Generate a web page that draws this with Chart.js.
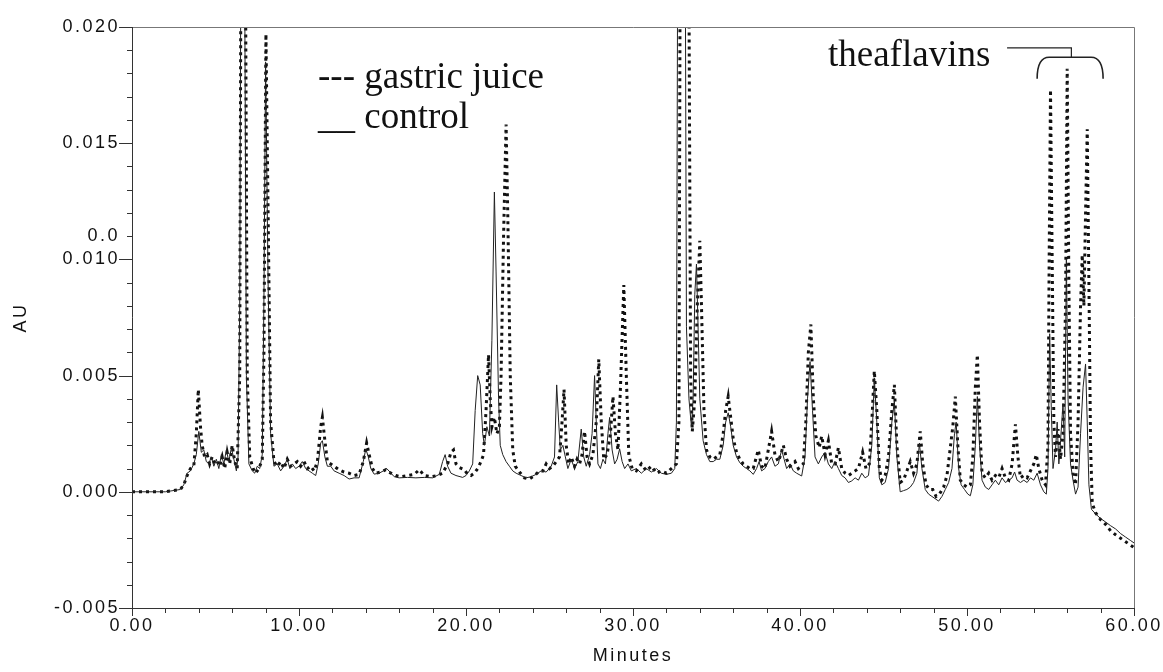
<!DOCTYPE html>
<html>
<head>
<meta charset="utf-8">
<style>
html,body{margin:0;padding:0;background:#fff;}
#wrap{width:1163px;height:672px;position:relative;}
canvas{display:block;}
</style>
<script src="https://cdn.jsdelivr.net/npm/chart.js@4.4.1/dist/chart.umd.min.js"></script>
</head>
<body>
<div id="wrap"><canvas id="c" width="1163" height="672"></canvas></div>
<script>
// ---- data: [minutes, AU] ----
const controlTrace = [
[0,0],[1,0],[2,0],[2.9,0.0001],[3.1,0.0003],[3.3,0.0008],[3.5,0.0009],[3.7,0.0012],[3.85,0.0016],[4,0.0026],
[4.15,0.0017],[4.3,0.0018],[4.45,0.0013],[4.6,0.0012],[4.75,0.0015],[4.9,0.0011],[5.05,0.0014],[5.2,0.0010],[5.35,0.0016],[5.5,0.0012],
[5.65,0.0018],[5.8,0.0013],[5.95,0.0019],[6.1,0.0014],[6.25,0.0009],[6.35,0.0015],[6.45,0.0080],[6.55,0.0300],[6.7,0.0300],[6.85,0.0050],
[7,0.0012],[7.2,0.0009],[7.35,0.0008],[7.5,0.0011],[7.65,0.0010],[7.8,0.0016],[7.9,0.0083],[8,0.0185],[8.15,0.0090],[8.3,0.0025],
[8.5,0.0011],[8.7,0.0012],[8.9,0.0009],[9.1,0.0011],[9.3,0.0014],[9.45,0.0010],[9.6,0.0012],[9.8,0.0010],[10,0.0011],[10.2,0.0013],
[10.4,0.0010],[10.6,0.0009],[10.8,0.0008],[11,0.0007],[11.15,0.0012],[11.3,0.0021],[11.4,0.0022],[11.55,0.0015],[11.7,0.0011],[11.9,0.0011],
[12.1,0.0009],[12.4,0.0008],[12.7,0.0007],[13,0.00055],[13.3,0.0006],[13.6,0.0006],[13.85,0.0013],[14,0.00185],[14.15,0.0015],[14.3,0.0010],
[14.5,0.00076],[14.8,0.0008],[15.05,0.0009],[15.25,0.0010],[15.45,0.00085],[15.7,0.00065],[16,0.0006],[16.5,0.00062],[17,0.0006],[17.5,0.00062],
[18,0.0006],[18.4,0.00075],[18.6,0.0013],[18.75,0.0016],[18.9,0.0011],[19.1,0.0008],[19.4,0.0007],[19.8,0.00062],[20,0.0007],[20.2,0.0009],
[20.4,0.0012],[20.55,0.0035],[20.7,0.0050],[20.85,0.0046],[21,0.0025],[21.1,0.0020],[21.25,0.0028],[21.4,0.0024],[21.55,0.0065],[21.7,0.0129],
[21.8,0.0095],[21.95,0.0040],[22.05,0.0020],[22.2,0.0016],[22.4,0.0013],[22.6,0.0011],[22.8,0.0009],[23,0.0008],[23.3,0.0007],[23.6,0.0006],
[23.9,0.00065],[24.2,0.00075],[24.5,0.0009],[24.8,0.00085],[25.1,0.0011],[25.3,0.0015],[25.43,0.0046],[25.55,0.0030],[25.65,0.0018],[25.8,0.0020],
[25.95,0.0015],[26.1,0.0010],[26.3,0.0014],[26.5,0.0010],[26.7,0.0013],[26.9,0.0027],[27.05,0.0015],[27.2,0.0011],[27.4,0.0016],[27.55,0.0025],
[27.7,0.0050],[27.8,0.0030],[27.9,0.0012],[28.05,0.0010],[28.2,0.0014],[28.35,0.0012],[28.5,0.0025],[28.6,0.0032],[28.75,0.0018],[28.9,0.0012],
[29.05,0.0014],[29.2,0.00185],[29.35,0.0013],[29.5,0.0010],[29.7,0.0012],[29.9,0.0009],[30.2,0.0010],[30.5,0.0008],[30.8,0.0010],[31.1,0.00085],
[31.4,0.0010],[31.7,0.0008],[32,0.00075],[32.3,0.0008],[32.5,0.0010],[32.6,0.0030],[32.7,0.0300],[33.1,0.0300],[33.2,0.0071],[33.35,0.0040],
[33.5,0.0028],[33.6,0.0040],[33.7,0.0085],[33.8,0.0098],[33.9,0.0070],[34,0.0040],[34.2,0.0022],[34.4,0.0016],[34.6,0.0013],[34.8,0.0013],
[35,0.0014],[35.2,0.0014],[35.4,0.0020],[35.55,0.0030],[35.7,0.0034],[35.85,0.0028],[36,0.0020],[36.2,0.0015],[36.4,0.00125],[36.6,0.0011],
[36.8,0.0010],[37,0.0009],[37.2,0.00075],[37.4,0.0010],[37.55,0.0013],[37.7,0.0009],[37.9,0.0010],[38.1,0.0013],[38.3,0.0015],[38.5,0.0011],
[38.7,0.0012],[38.9,0.0018],[39.05,0.0014],[39.2,0.0010],[39.4,0.0012],[39.6,0.0009],[39.8,0.0008],[40.1,0.00068],[40.3,0.0015],[40.45,0.0040],
[40.6,0.0056],[40.75,0.0035],[40.9,0.0015],[41.1,0.0012],[41.3,0.0015],[41.5,0.0017],[41.7,0.0012],[41.9,0.0010],[42.1,0.0013],[42.3,0.0010],
[42.5,0.0007],[42.7,0.0006],[42.9,0.0004],[43.1,0.00047],[43.3,0.0006],[43.5,0.0005],[43.7,0.0008],[43.9,0.0006],[44.1,0.0007],[44.3,0.0020],
[44.45,0.0049],[44.6,0.0030],[44.75,0.0006],[44.9,0.0003],[45.1,0.0004],[45.3,0.0010],[45.5,0.0030],[45.65,0.0039],[45.8,0.0015],[46,0],
[46.2,0.00005],[46.4,0.0001],[46.6,0.0002],[46.8,0.0004],[47,0.0008],[47.15,0.0021],[47.3,0.0010],[47.5,0.0001],[47.7,-0.0001],[47.9,-0.0002],
[48.1,-0.0003],[48.3,-0.0004],[48.5,-0.0002],[48.7,0.0001],[48.9,0.0004],[49.1,0.0010],[49.25,0.0025],[49.35,0.0030],[49.5,0.0010],[49.65,0.0003],
[49.85,0.0001],[50.05,-0.0001],[50.2,-0.00017],[50.35,0.0003],[50.5,0.0020],[50.62,0.0041],[50.75,0.0020],[50.9,0.0005],[51.1,0.0002],[51.3,0.0001],
[51.5,0.0003],[51.7,0.0005],[51.9,0.0003],[52.1,0.0006],[52.3,0.0004],[52.5,0.0005],[52.7,0.0006],[52.85,0.00085],[53,0.0005],[53.2,0.0004],
[53.4,0.0005],[53.6,0.0004],[53.8,0.0006],[54,0.0005],[54.2,0.0008],[54.4,0.0003],[54.6,0],[54.75,-0.0001],[54.85,0.0010],[54.95,0.0068],
[55.05,0.0035],[55.15,0.0010],[55.3,0.0018],[55.4,0.0030],[55.5,0.0012],[55.6,0.0022],[55.75,0.0038],[55.85,0.0015],[55.95,0.0100],[56.05,0.0040],
[56.2,0.0012],[56.35,0.0005],[56.5,-0.0001],[56.65,0.0002],[56.8,0.0025],[56.95,0.0045],[57.1,0.0055],[57.2,0.0030],[57.3,0.0003],[57.45,-0.00075],
[57.7,-0.00095],[58,-0.00115],[58.3,-0.0013],[58.6,-0.00146],[58.9,-0.0016],[59.2,-0.0018],[59.5,-0.00195],[59.8,-0.0021],[60,-0.0022]
];

const gastricTrace = [
[0,0],[1,0],[2,0],[2.9,0.0001],[3.1,0.0003],[3.3,0.0007],[3.5,0.0010],[3.7,0.0011],[3.85,0.0025],[3.97,0.0044],
[4.1,0.0028],[4.2,0.0020],[4.35,0.0015],[4.5,0.0016],[4.65,0.0012],[4.8,0.0015],[4.95,0.0012],[5.1,0.0013],[5.25,0.0011],[5.4,0.0015],
[5.55,0.0010],[5.7,0.0017],[5.85,0.0012],[6,0.0020],[6.15,0.0013],[6.3,0.0010],[6.45,0.0050],[6.55,0.0300],[6.75,0.0300],[6.9,0.0050],
[7.05,0.0015],[7.25,0.0010],[7.4,0.0008],[7.6,0.0010],[7.8,0.0014],[7.9,0.0060],[8.02,0.0197],[8.15,0.0120],[8.3,0.0030],[8.5,0.0013],
[8.7,0.0011],[8.9,0.0013],[9.1,0.0010],[9.3,0.0014],[9.5,0.0011],[9.7,0.0012],[9.9,0.0013],[10.1,0.0011],[10.3,0.0013],[10.5,0.0010],
[10.7,0.0011],[10.9,0.0009],[11.1,0.0013],[11.3,0.0028],[11.4,0.0032],[11.55,0.0022],[11.7,0.0013],[11.9,0.0012],[12.1,0.0011],[12.4,0.00095],
[12.7,0.00085],[13,0.0008],[13.3,0.0007],[13.6,0.00075],[13.85,0.0013],[14.05,0.0021],[14.2,0.0016],[14.4,0.0010],[14.6,0.0008],[14.9,0.00085],
[15.2,0.00095],[15.5,0.0008],[15.8,0.0007],[16.1,0.00065],[16.5,0.0007],[16.9,0.00075],[17.2,0.00095],[17.5,0.0007],[17.9,0.00065],[18.3,0.0007],
[18.6,0.0008],[18.9,0.0012],[19.1,0.0017],[19.25,0.0018],[19.4,0.0012],[19.6,0.00105],[19.9,0.00095],[20.1,0.00075],[20.3,0.0007],[20.5,0.0008],
[20.7,0.0010],[20.9,0.0013],[21.05,0.0016],[21.2,0.0035],[21.35,0.0059],[21.45,0.0040],[21.55,0.0028],[21.7,0.0032],[21.85,0.0025],[22,0.0028],
[22.1,0.0050],[22.25,0.0110],[22.4,0.0158],[22.5,0.0120],[22.65,0.0050],[22.8,0.0018],[22.95,0.0011],[23.2,0.00085],[23.5,0.0006],[23.8,0.00055],
[24.1,0.0007],[24.4,0.0009],[24.6,0.0009],[24.8,0.0012],[25,0.0010],[25.2,0.0011],[25.4,0.0013],[25.6,0.0015],[25.75,0.0030],[25.87,0.0044],
[26,0.0020],[26.15,0.0012],[26.3,0.0015],[26.5,0.0011],[26.65,0.0014],[26.8,0.0012],[26.95,0.0016],[27.1,0.0026],[27.25,0.0015],[27.4,0.0012],
[27.6,0.0016],[27.8,0.0030],[27.95,0.0057],[28.1,0.0030],[28.25,0.0014],[28.45,0.0016],[28.65,0.0025],[28.8,0.0041],[28.95,0.0025],[29.1,0.0018],
[29.25,0.0045],[29.45,0.0089],[29.6,0.0050],[29.75,0.00155],[29.95,0.0010],[30.2,0.0009],[30.5,0.0012],[30.8,0.0009],[31.1,0.0011],[31.4,0.0008],
[31.7,0.0009],[32,0.0008],[32.3,0.0010],[32.6,0.0012],[32.75,0.0030],[32.85,0.0300],[33.3,0.0300],[33.45,0.0050],[33.55,0.0026],[33.7,0.0040],
[33.85,0.0080],[34,0.0108],[34.1,0.0080],[34.25,0.0035],[34.4,0.0018],[34.6,0.0015],[34.8,0.0014],[35,0.0015],[35.2,0.0016],[35.4,0.0025],
[35.55,0.0035],[35.7,0.0041],[35.85,0.0032],[36,0.0023],[36.2,0.0017],[36.4,0.0014],[36.6,0.0012],[36.8,0.0011],[37,0.0010],[37.2,0.0010],
[37.5,0.0018],[37.7,0.0011],[37.9,0.0010],[38.1,0.0018],[38.3,0.0026],[38.5,0.0016],[38.7,0.0013],[38.85,0.0016],[39,0.0020],[39.2,0.0014],
[39.4,0.0011],[39.7,0.0013],[39.9,0.0010],[40.2,0.0012],[40.35,0.0030],[40.5,0.0060],[40.65,0.0072],[40.8,0.0040],[40.95,0.0024],[41.15,0.0019],
[41.3,0.0024],[41.5,0.0016],[41.7,0.0022],[41.9,0.0012],[42.1,0.0012],[42.3,0.0019],[42.5,0.0010],[42.7,0.0008],[42.9,0.0007],[43.1,0.0008],
[43.3,0.0009],[43.5,0.0010],[43.75,0.0017],[43.95,0.0010],[44.15,0.0012],[44.3,0.0030],[44.45,0.0052],[44.6,0.0035],[44.75,0.0010],[44.9,0.0005],
[45.1,0.0007],[45.3,0.0015],[45.5,0.0035],[45.65,0.0046],[45.8,0.0020],[46,0.0004],[46.2,0.0005],[46.4,0.0009],[46.6,0.0013],[46.8,0.0008],
[47,0.0012],[47.2,0.0026],[47.35,0.0012],[47.55,0.0003],[47.75,0.0001],[47.95,0.0001],[48.15,-0.0002],[48.35,-0.0001],[48.6,0.0002],[48.8,0.0007],
[49,0.0019],[49.15,0.0028],[49.3,0.0041],[49.45,0.0020],[49.6,0.0005],[49.8,0.0003],[50,0.0002],[50.2,0.0003],[50.35,0.0015],[50.5,0.0045],
[50.62,0.0059],[50.75,0.0030],[50.9,0.0008],[51.1,0.0006],[51.3,0.0008],[51.5,0.0005],[51.7,0.0007],[51.9,0.0006],[52.1,0.0010],[52.3,0.0006],
[52.5,0.0005],[52.7,0.0012],[52.9,0.0029],[53.05,0.0015],[53.2,0.0006],[53.4,0.0007],[53.6,0.0006],[53.8,0.0009],[54,0.0012],[54.15,0.0016],
[54.3,0.0010],[54.5,0.0005],[54.7,0.0003],[54.85,0.0020],[54.92,0.0100],[55,0.0173],[55.1,0.0100],[55.2,0.0030],[55.3,0.0015],[55.45,0.0027],
[55.6,0.0014],[55.75,0.0025],[55.9,0.0080],[56,0.0182],[56.1,0.0090],[56.2,0.0025],[56.35,0.0008],[56.5,0.0003],[56.65,0.0030],[56.8,0.0080],
[56.9,0.0102],[57,0.0080],[57.1,0.0120],[57.2,0.0156],[57.3,0.0090],[57.4,0.0020],[57.5,-0.0005],[57.7,-0.0009],[58,-0.0012],[58.3,-0.0014],
[58.6,-0.00168],[58.9,-0.00185],[59.2,-0.0020],[59.5,-0.00215],[59.8,-0.0023],[60,-0.0024]
];

// ---- axes / ticks ----
const xTickValues = [0,2,4,6,8,10,12,14,16,18,20,22,24,26,28,30,32,34,36,38,40,42,44,46,48,50,52,54,56,58,60];
const xLabelValues = [0,10,20,30,40,50,60];
const xLabelTexts = ['0.00','10.00','20.00','30.00','40.00','50.00','60.00'];
const yTickValues = [-0.005,-0.004,-0.003,-0.002,-0.001,0,0.001,0.002,0.003,0.004,0.005,0.006,0.007,0.008,0.009,0.010,0.011,0.012,0.013,0.014,0.015,0.016,0.017,0.018,0.019,0.020];
const yMajorValues = [-0.005,0,0.005,0.010,0.015,0.020];
const yLabelValues = [-0.005,0,0.005,0.010,0.011,0.015,0.020];
const yLabelTexts = ['-0.005','0.000','0.005','0.010','0.0','0.015','0.020'];
const xMajorValues = [0,10,20,30,40,50,60];

// annotation (in data units)
const theaflavinBrace = {from:54.2, to:58.15, stem:56.25, lineStart:52.4, top:0.0187, leg:0.0179, line:0.0191};

const near = (a,b)=>Math.abs(a-b)<1e-7;
function labelFor(v, vals, texts){ const i = vals.findIndex(u=>near(u,v)); return i>=0 ? texts[i] : ''; }

const decor = {
  id:'decor',
  beforeDraw(chart){ chart.ctx.letterSpacing = '2.5px'; },
  afterDraw(chart){
    const {ctx, chartArea:a, scales:{x,y}} = chart;
    ctx.save();
    ctx.letterSpacing = '0px';
    // frame
    ctx.lineWidth = 1;
    ctx.strokeStyle = '#777';
    ctx.beginPath();
    ctx.moveTo(a.left, a.top+0.5); ctx.lineTo(a.right+0.5, a.top+0.5); ctx.lineTo(a.right+0.5, a.bottom);
    ctx.stroke();
    ctx.strokeStyle = '#333';
    ctx.beginPath();
    ctx.moveTo(a.left+0.5, a.top); ctx.lineTo(a.left+0.5, a.bottom+0.5); ctx.lineTo(a.right+0.5, a.bottom+0.5);
    ctx.stroke();
    // y ticks
    ctx.beginPath();
    yTickValues.forEach(v=>{
      const p = Math.round(y.getPixelForValue(v))+0.5;
      const major = yMajorValues.some(m=>near(m,v));
      ctx.moveTo(a.left-(major?13:5), p); ctx.lineTo(a.left, p);
    });
    // x ticks
    xTickValues.forEach(v=>{
      const p = Math.round(x.getPixelForValue(v))+0.5;
      const major = xMajorValues.some(m=>near(m,v));
      ctx.moveTo(p, a.bottom); ctx.lineTo(p, a.bottom+(major?8:5));
    });
    ctx.stroke();

    // legend text
    ctx.fillStyle = '#111';
    ctx.font = '37px "Liberation Serif", "Times New Roman", serif';
    ctx.textBaseline = 'alphabetic';
    ctx.textAlign = 'left';
    ctx.fillText('--- gastric juice', 318, 88);
    ctx.fillText('__ control', 318, 128);
    ctx.fillText('theaflavins', 828, 66);

    // theaflavins bracket
    const b = theaflavinBrace;
    const xl = x.getPixelForValue(b.from), xr = x.getPixelForValue(b.to);
    const xs = x.getPixelForValue(b.stem), x0 = x.getPixelForValue(b.lineStart);
    const yt = y.getPixelForValue(b.top), yl = y.getPixelForValue(b.leg), yline = y.getPixelForValue(b.line);
    ctx.strokeStyle = '#222';
    ctx.lineWidth = 1.2;
    ctx.beginPath();
    ctx.moveTo(x0, yline); ctx.lineTo(xs, yline); ctx.lineTo(xs, yt);
    ctx.stroke();
    ctx.lineWidth = 1.6;
    ctx.beginPath();
    ctx.moveTo(xl, yl+3);
    ctx.quadraticCurveTo(xl, yt, xl+12, yt);
    ctx.lineTo(xr-12, yt);
    ctx.quadraticCurveTo(xr, yt, xr, yl+3);
    ctx.stroke();
    ctx.restore();
  }
};

const fontSans = '"Liberation Sans", Arial, Helvetica, sans-serif';

new Chart(document.getElementById('c'), {
  type:'line',
  data:{
    datasets:[
      { label:'control', data: controlTrace.map(p=>({x:p[0], y:p[1]})),
        borderColor:'#222', borderWidth:1, pointRadius:0, tension:0, fill:false, order:1 },
      { label:'gastric juice', data: gastricTrace.map(p=>({x:p[0], y:p[1]})),
        borderColor:'#111', borderWidth:3, borderDash:[3,4], borderCapStyle:'butt', pointRadius:0, tension:0, fill:false, order:2 }
    ]
  },
  options:{
    responsive:false, animation:false, devicePixelRatio:1,
    layout:{padding:{left:0, top:27, right:29, bottom:0}},
    plugins:{legend:{display:false}, tooltip:{enabled:false}},
    scales:{
      x:{
        type:'linear', min:0, max:60,
        grid:{display:false, drawTicks:false}, border:{display:false},
        afterBuildTicks(s){ s.ticks = xTickValues.map(v=>({value:v})); },
        afterFit(s){ s.height = 64; s.paddingLeft = 0; s.paddingRight = 0; },
        ticks:{autoSkip:false, maxRotation:0, padding:7, color:'#111', font:{family:fontSans, size:18},
               callback:(v)=>labelFor(v, xLabelValues, xLabelTexts)},
        title:{display:true, text:'Minutes', color:'#111', font:{family:fontSans, size:18}, padding:{top:0, bottom:5}}
      },
      y:{
        type:'linear', min:-0.005, max:0.020,
        grid:{display:false, drawTicks:false}, border:{display:false},
        afterBuildTicks(s){ s.ticks = yTickValues.map(v=>({value:v})); },
        afterFit(s){ s.width = 132; s.paddingTop = 0; s.paddingBottom = 0; },
        ticks:{autoSkip:false, padding:12, color:'#111', font:{family:fontSans, size:18},
               callback:(v)=>labelFor(v, yLabelValues, yLabelTexts)},
        title:{display:true, text:'AU', color:'#111', font:{family:fontSans, size:18}, padding:{top:10, bottom:0}}
      }
    }
  },
  plugins:[decor]
});
</script>
</body>
</html>
